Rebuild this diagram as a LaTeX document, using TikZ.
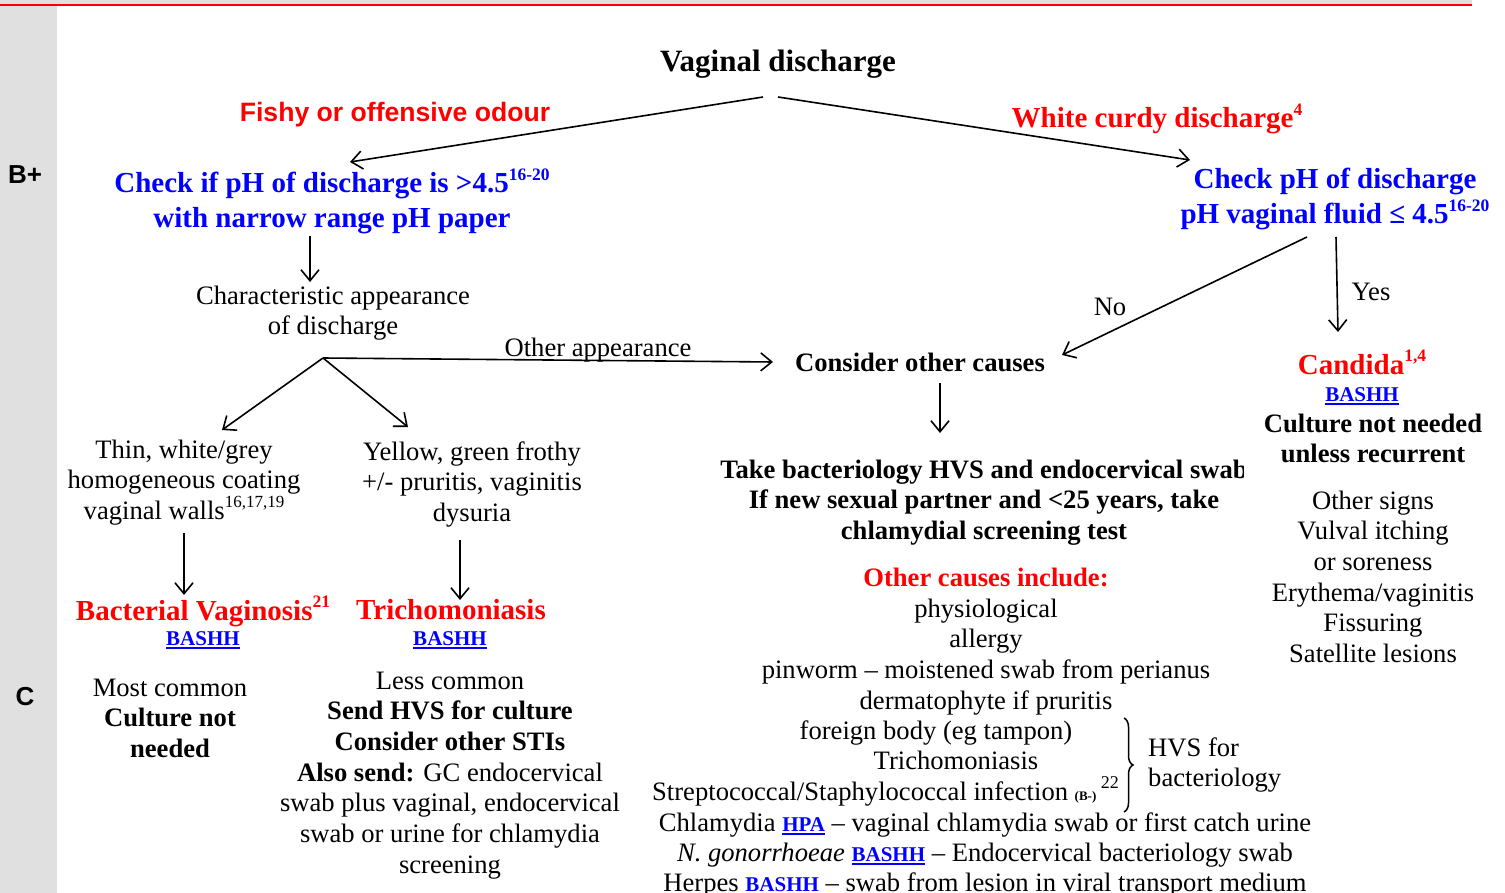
\documentclass[tikz,border=0pt]{standalone}
\usepackage{fontspec}
\setmainfont{Liberation Serif}
\newfontfamily\arialf{Liberation Sans}
\usetikzlibrary{arrows.meta,decorations.pathreplacing}
\newcommand\fsz[2]{\fontsize{#1}{#2}\selectfont}
\newcommand\upr[2][17.5]{\raisebox{0.43em}{\fontsize{#1}{#1}\selectfont #2}}
\newcommand\lnk[1]{{\fsz{21}{25}\bfseries\color{blue}\setbox0\hbox{#1}\rlap{\raisebox{-3.5pt}{\rule{\wd0}{2pt}}}\box0}}
\tikzset{
  txt/.style={inner sep=0pt, anchor=base, align=center, font=\fsz{26.6}{30.7}},
  hd/.style={inner sep=0pt, anchor=base, align=center, font=\fsz{29}{34.5}\bfseries},
  bd/.style={inner sep=0pt, anchor=base, align=center, font=\fsz{26.6}{30.7}\bfseries},
  arr/.style={line width=1.6pt, -{Straight Barb[length=11pt,width=18pt,line width=1.6pt]}},
  ln/.style={line width=1.6pt}
}
\begin{document}
\begin{tikzpicture}[x=1pt,y=-1pt]
\useasboundingbox (0,0) rectangle (1505,893);
\fill[white] (0,0) rectangle (1505,893);
% frame decorations
\fill[black!12] (0,0) rectangle (1472,4);
\fill[black!12] (0,0) rectangle (57,893);
\fill[red] (0,4) rectangle (1472,6.5);

% side labels
\node[inner sep=0pt, anchor=base, font=\arialf\fsz{26}{30}\bfseries] (bplus) at (25,184) {B+};
\node[inner sep=0pt, anchor=base, font=\arialf\fsz{26}{30}\bfseries] (clab) at (25,705) {C};

% top
\node[inner sep=0pt, anchor=base, font=\fsz{31}{36}\bfseries] (vd) at (778,72) {Vaginal discharge};
\node[inner sep=0pt, anchor=base, font=\arialf\fsz{26.6}{30}\bfseries, text=red] (fishy) at (395,122) {Fishy or offensive odour};
\node[hd, text=red] (white) at (1157,128) {White curdy discharge\upr{4}};

\node[hd, text=blue] (chk1) at (332,227.5) {Check if pH of discharge is >4.5\upr{16-20}\\with narrow range pH paper};
\node[hd, text=blue] (chk2) at (1335,223.5) {Check pH of discharge\\pH vaginal fluid ≤ 4.5\upr{16-20}};

\node[txt] (char) at (333,334.7) {Characteristic appearance\\of discharge};
\node[txt] (otherapp) at (598,356) {Other appearance};

\node[txt] (thin) at (184,519.4) {Thin, white/grey\\homogeneous coating\\vaginal walls\upr[17]{16,17,19}};
\node[txt] (yellow) at (472,521.4) {Yellow, green frothy\\+/- pruritis, vaginitis\\dysuria};

\node[hd, text=red] (bv) at (203,620) {Bacterial Vaginosis\upr{21}};
\node[inner sep=0pt, anchor=base] (bvl) at (203,645) {\lnk{BASHH}};
\node[hd, text=red] (tri) at (451,619) {Trichomoniasis};
\node[inner sep=0pt, anchor=base] (tril) at (450,645) {\lnk{BASHH}};

\node[txt] (most) at (170,757.4) {Most common\\\textbf{Culture not}\\\textbf{needed}};
\node[txt] (less) at (450,873.2) {Less common\\\textbf{Send HVS for culture}\\\textbf{Consider other STIs}\\\textbf{Also send:} GC endocervical\\swab plus vaginal, endocervical\\swab or urine for chlamydia\\screening};

\node[bd] (cons) at (920,371) {Consider other causes};
\node[txt] (no) at (1110,316) {No};
\node[txt] (yes) at (1371,301) {Yes};

\begin{scope}
\clip (600,440) rectangle (1243,560);
\node[bd] (take) at (984,539.4) {Take bacteriology HVS and endocervical swab\\If new sexual partner and <25 years, take\\chlamydial screening test};
\end{scope}

\node[bd, text=red] (oci) at (986,586) {Other causes include:};
\node[txt] (list) at (986,709.1) {physiological\\allergy\\pinworm – moistened swab from perianus\\dermatophyte if pruritis};
\node[txt] (foreign) at (936,739) {foreign body (eg tampon)};
\node[txt] (trich2) at (956,769) {Trichomoniasis};
\node[txt, anchor=base west] (strep) at (652,800) {Streptococcal/Staphylococcal infection {\fsz{13}{13}\bfseries(B-)}\,\upr[18]{22}};
\node[txt, anchor=base west, align=left] (hvs) at (1148,786.7) {HVS for\\bacteriology};
\draw[line width=1.5pt, decorate, decoration={brace, amplitude=9pt}] (1124,718) -- (1124,812);
\node[txt] (chl) at (985,831) {Chlamydia \lnk{HPA} – vaginal chlamydia swab or first catch urine};
\node[txt] (ng) at (985,861) {\textit{N. gonorrhoeae} \lnk{BASHH} – Endocervical bacteriology swab};
\node[txt] (herp) at (985,891) {Herpes \lnk{BASHH} – swab from lesion in viral transport medium};

\node[hd, text=red] (cand) at (1362,374) {Candida\upr{1,4}};
\node[inner sep=0pt, anchor=base] (candl) at (1362,401) {\lnk{BASHH}};
\node[bd] (cult) at (1373,462.7) {Culture not needed\\unless recurrent};
\node[txt] (signs) at (1373,662.5) {Other signs\\Vulval itching\\or soreness\\Erythema/vaginitis\\Fissuring\\Satellite lesions};

% connector points
\coordinate (vdL) at (763,97);
\coordinate (vdR) at (778,97);
\coordinate (chk1T) at (350,162);
\coordinate (chk2T) at (1190,160);
\coordinate (chk1B) at (310,236);
\coordinate (charT) at (310,282);
\coordinate (fork) at (323,358);
\coordinate (consL) at (773,362);
\coordinate (thinT) at (222,430);
\coordinate (yelT) at (408,427);
\coordinate (thinB) at (184,533);
\coordinate (bvT) at (184,595);
\coordinate (yelB) at (460,540);
\coordinate (triT) at (460,600);
\coordinate (chk2BL) at (1307,237);
\coordinate (consR) at (1062,355);
\coordinate (chk2BR) at (1336,237);
\coordinate (candT) at (1338,332);
\coordinate (consB) at (940,383);
\coordinate (takeT) at (940,433);

\draw[arr] (vdL) -- (chk1T);
\draw[arr] (vdR) -- (chk2T);
\draw[arr] (chk1B) -- (charT);
\draw[arr] (fork) -- (consL);
\draw[arr] (fork) -- (thinT);
\draw[arr] (fork) -- (yelT);
\draw[arr] (thinB) -- (bvT);
\draw[arr] (yelB) -- (triT);
\draw[arr] (chk2BL) -- (consR);
\draw[arr] (chk2BR) -- (candT);
\draw[arr] (consB) -- (takeT);
\end{tikzpicture}
\end{document}
